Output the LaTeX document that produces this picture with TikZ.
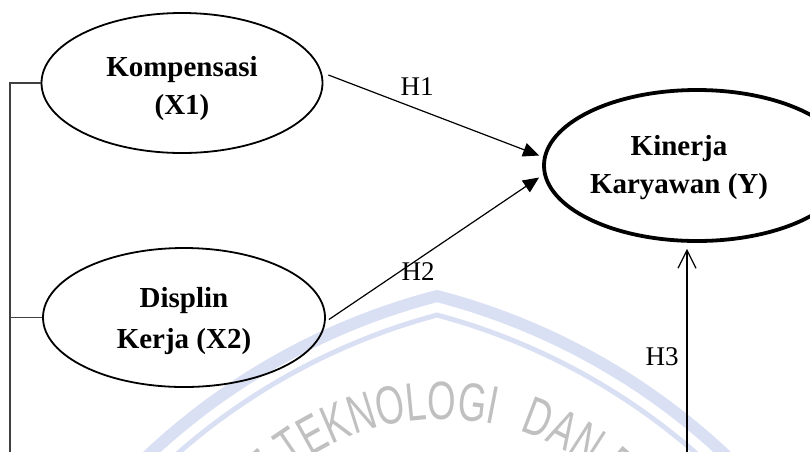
\documentclass[tikz,border=0pt]{standalone}
\usepackage{fontspec}
\setmainfont{Liberation Serif}
\newfontfamily\wmfont[FakeStretch=0.68]{Liberation Sans}
\usetikzlibrary{shapes.geometric,arrows.meta,calc,decorations.text}
\definecolor{wmblue}{RGB}{218,224,244}
\definecolor{wmgray}{RGB}{192,192,192}
\begin{document}
\begin{tikzpicture}[x=1pt,y=-1pt,
  latent/.style={draw, ellipse, line width=1.8pt, inner sep=0pt},
  bigtext/.style={font=\fontsize{29}{38}\selectfont\bfseries, align=center, inner sep=0pt},
  hlab/.style={font=\fontsize{27}{30}\selectfont, inner sep=0pt},
  path1/.style={line width=1.2pt, -{Triangle[length=16pt,width=14pt]}},
  path3/.style={line width=1.2pt, -{Straight Barb[length=18pt,width=18pt]}},
  bracket/.style={line width=1.2pt, black!75},
  band/.style={wmblue, line join=miter},
  wmtext/.style={decorate, decoration={text along path, text color=wmgray, text={#1}}}
]
\useasboundingbox (0,0) rectangle (810,451);
\begin{scope}
\clip (0,0) rectangle (810,451);
% watermark
\draw[band, line width=12pt] (604,940) ++(-140:665.3) arc[start angle=-140, end angle=-104.54, radius=665.3]
   arc[start angle=-75.46, end angle=-40, radius=665.3];
\draw[band, line width=5pt] (604,940) ++(-140:646.9) arc[start angle=-140, end angle=-104.96, radius=646.9]
   arc[start angle=-75.04, end angle=-40, radius=646.9];
\path[wmtext={|\wmfont\fontsize{54}{56}\selectfont|T TEKNOLOGI}]
   (442,669) ++(-134.4:250) arc[start angle=-134.4, end angle=-40, radius=250];
\path[wmtext={|\wmfont\fontsize{54}{56}\selectfont|DAN B}]
   (442,669) ++(-72:250) arc[start angle=-72, end angle=-10, radius=250];
\end{scope}

% latent variables
\node[latent, minimum width=281pt, minimum height=140pt] (k) at (182,83) {};
\node[latent, minimum width=282pt, minimum height=139pt] (d) at (184,317.5) {};
\node[latent, line width=3.8pt, minimum width=306pt, minimum height=151pt] (y) at (697,165.5) {};

\node[bigtext] (kt) at (182,89) {Kompensasi\\(X1)};
\node[bigtext, font=\fontsize{29}{41}\selectfont\bfseries] (dt) at (184,321) {Displin\\Kerja (X2)};
\node[bigtext] (yt) at (679,168) {Kinerja\\Karyawan (Y)};

% paths
\draw[path1] ($(k.east)+(5,-8)$) -- ($(y.west)+(-3,-10)$);
\draw[path1] ($(d.east)+(3,2)$) -- ($(y.west)+(-3,12)$);
\coordinate (b3) at (687,460);
\draw[path3] (b3) -- ($(y.south -| b3)+(0,6)$);

% left bracket
\coordinate (lb) at (10,460);
\draw[bracket] (lb) |- (k.west);
\draw[bracket] (d.west) -- (d.west -| lb);

% labels
\node[hlab] (h1) at (417,87) {H1};
\node[hlab] (h2) at (418,272) {H2};
\node[hlab] (h3) at (662,357) {H3};
\end{tikzpicture}
\end{document}
